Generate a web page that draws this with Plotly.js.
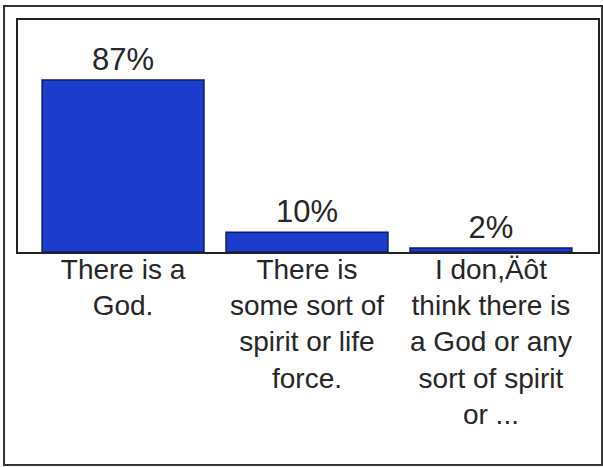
<!DOCTYPE html>
<html>
<head>
<meta charset="utf-8">
<script src="https://cdn.plot.ly/plotly-3.0.1.min.js"></script>
<style>
  html, body { margin: 0; padding: 0; background: #ffffff; }
  #chart { width: 603px; height: 467px; }
</style>
</head>
<body>
<div id="chart"></div>
<script>
const categories = [
  "There is a<br>God.",
  "There is<br>some sort of<br>spirit or life<br>force.",
  "I don,Äôt<br>think there is<br>a God or any<br>sort of spirit<br>or ..."
];
const percentages = [87, 10, 2];

const trace = {
  type: "bar",
  x: categories,
  y: percentages,
  marker: { color: "#1c3dcc", line: { color: "#0c1a6a", width: 1.5 } },
  texttemplate: "%{y}%",
  textposition: "outside",
  textfont: { family: "Liberation Sans, Arial, sans-serif", size: 31, color: "#262626" },
  cliponaxis: false,
  hoverinfo: "skip"
};

const layout = {
  width: 603,
  height: 467,
  margin: { l: 18, r: 5, t: 20, b: 215 },
  paper_bgcolor: "#ffffff",
  plot_bgcolor: "#ffffff",
  showlegend: false,
  bargap: 0.12,
  font: { family: "Liberation Sans, Arial, sans-serif", color: "#262626" },
  xaxis: {
    type: "category",
    range: [-0.571, 2.582],
    showline: true,
    mirror: true,
    linecolor: "#222222",
    linewidth: 2,
    ticks: "",
    ticklabelstandoff: -9,
    tickfont: { size: 28, color: "#262626" },
    showgrid: false,
    zeroline: false,
    fixedrange: true
  },
  yaxis: {
    range: [0, 117.4],
    showline: true,
    mirror: true,
    linecolor: "#222222",
    linewidth: 2,
    showticklabels: false,
    ticks: "",
    showgrid: false,
    zeroline: false,
    fixedrange: true
  },
  shapes: [{
    type: "rect",
    xref: "paper", yref: "paper",
    x0: -0.0241, x1: 1.007, y0: -0.918, y1: 1.0603,
    line: { color: "#333333", width: 2 },
    fillcolor: "rgba(0,0,0,0)",
    layer: "below"
  }]
};

Plotly.newPlot("chart", [trace], layout, { staticPlot: true, displayModeBar: false });
</script>
</body>
</html>
